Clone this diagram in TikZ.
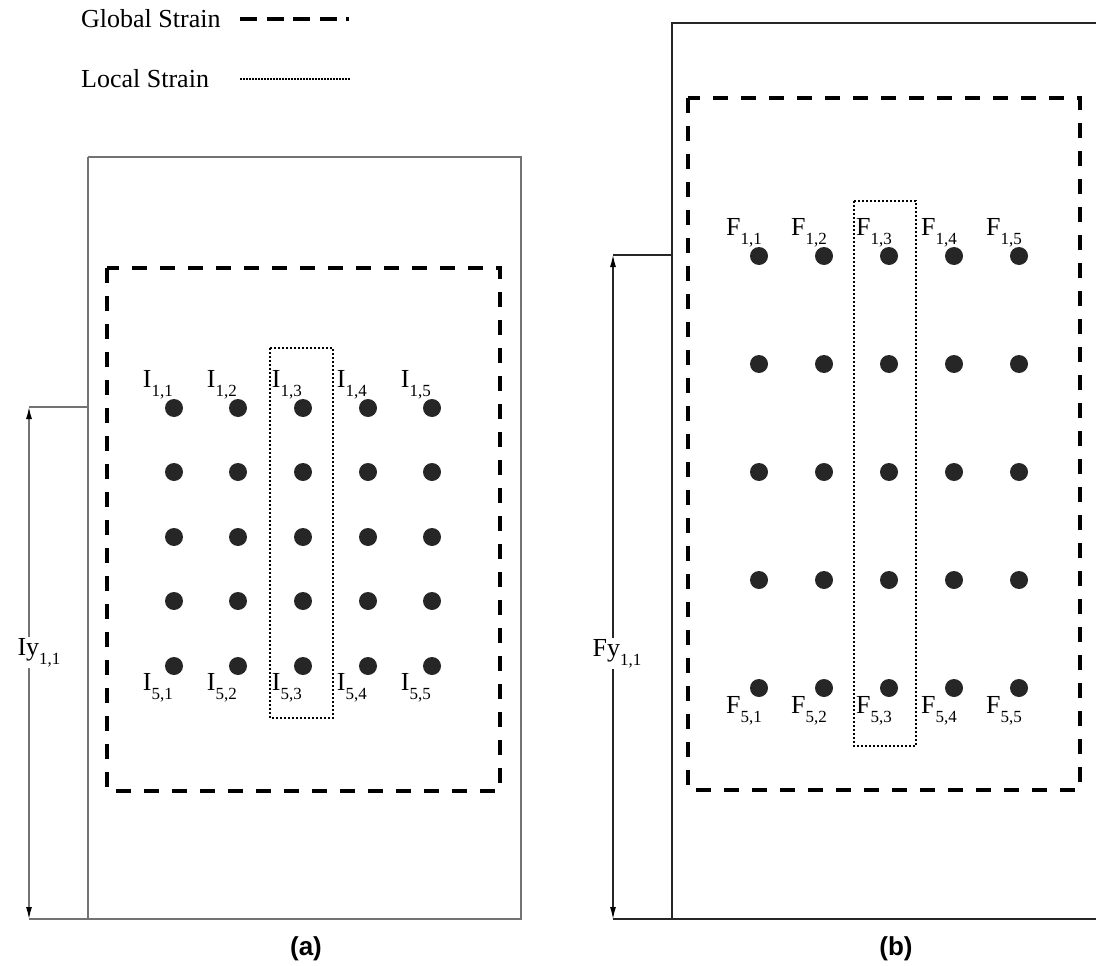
\documentclass[tikz,border=0pt]{standalone}
\usepackage{fontspec}
\setmainfont{Liberation Serif}
\newfontfamily\capfont{Liberation Sans}
\usetikzlibrary{arrows.meta}
\newcommand{\lab}[2]{#1\raisebox{-9pt}{\fontsize{17}{17}\selectfont #2}}
\begin{document}
\begin{tikzpicture}[x=1pt,y=-1pt,
  dot/.style={circle,fill=black!85,minimum size=18pt,inner sep=0pt,draw=none},
  lbl/.style={inner sep=0pt,font=\fontsize{26}{28}\selectfont},
  panela/.style={draw=black!55,line width=1.4pt},
  panelb/.style={draw=black!85,line width=1.1pt},
  globalbox/.style={draw=black,line width=3.5pt,dash pattern=on 15pt off 13pt},
  localbox/.style={draw=black,line width=2pt,dash pattern=on 2pt off 2pt},
  dimarrow/.style={{Latex[length=12pt,width=6pt,color=black]}-{Latex[length=12pt,width=6pt,color=black]}},
  dimlabel/.style={inner sep=1pt,fill=white,font=\fontsize{26}{28}\selectfont},
  caption/.style={font=\capfont\bfseries\fontsize{26}{28}\selectfont}]
\useasboundingbox (0,0) rectangle (1096,966);
% legend
\node[lbl,anchor=base west] (lg) at (81,28) {Global Strain};
\node[lbl,anchor=base west] (ll) at (81,88) {Local Strain};
\coordinate (lgs) at (240,19); \coordinate (lge) at (349,19);
\coordinate (lls) at (240,79); \coordinate (lle) at (350,79);
\draw[line width=3.5pt,dash pattern=on 17pt off 9.5pt] (lgs) -- (lge);
\draw[line width=1.3pt,dash pattern=on 1.5pt off 1.5pt] (lls) -- (lle);

% ---------- panel (a)
\draw[panela] (88,157) -- (521,157) -- (521,919) -- (29,919);
\draw[panela] (88,157) -- (88,919);
\coordinate (atop) at (29,407);
\coordinate (abot) at (29,919);
\coordinate (aleft) at (88,407);
\draw[panela] (atop) -- (aleft);
\draw[panela,dimarrow] (atop) -- node[dimlabel,pos=0.48,xshift=10pt] (alab) {\lab{Iy}{1,1}} (abot);
\draw[globalbox] (107,268) rectangle (500,791);
\draw[localbox] (270,348) rectangle (333,718);
\foreach \c/\x in {1/174,2/238,3/303,4/368,5/432}{
  \foreach \r/\y in {1/408,2/472,3/537,4/601,5/666}{
    \node[dot] (a\r\c) at (\x,\y) {};
  }
  \node[lbl,anchor=base east] (la1\c) at (\x-1,387) {\lab{I}{1,\c}};
  \node[lbl,anchor=base east] (la5\c) at (\x-1,690) {\lab{I}{5,\c}};
}
\node[caption] (capa) at (306,949) {(a)};

% ---------- panel (b)
\draw[panelb] (1097,23) -- (672,23) -- (672,919) -- (613,919);
\draw[panelb] (672,919) -- (1097,919);
\coordinate (btop) at (613,255);
\coordinate (bbot) at (613,919);
\coordinate (bleft) at (672,255);
\draw[panelb] (btop) -- (bleft);
\draw[panelb,dimarrow] (btop) -- node[dimlabel,pos=0.6,xshift=4pt] (blab) {\lab{Fy}{1,1}} (bbot);
\draw[globalbox] (688,98) rectangle (1080,790);
\draw[localbox] (854,201) rectangle (916,746);
\foreach \c/\x in {1/759,2/824,3/889,4/954,5/1019}{
  \foreach \r/\y in {1/256,2/364,3/472,4/580,5/688}{
    \node[dot] (b\r\c) at (\x,\y) {};
  }
  \node[lbl,anchor=base east] (lb1\c) at (\x+3,235) {\lab{F}{1,\c}};
  \node[lbl,anchor=base east] (lb5\c) at (\x+3,713) {\lab{F}{5,\c}};
}
\node[caption] (capb) at (896,949) {(b)};
\end{tikzpicture}
\end{document}
